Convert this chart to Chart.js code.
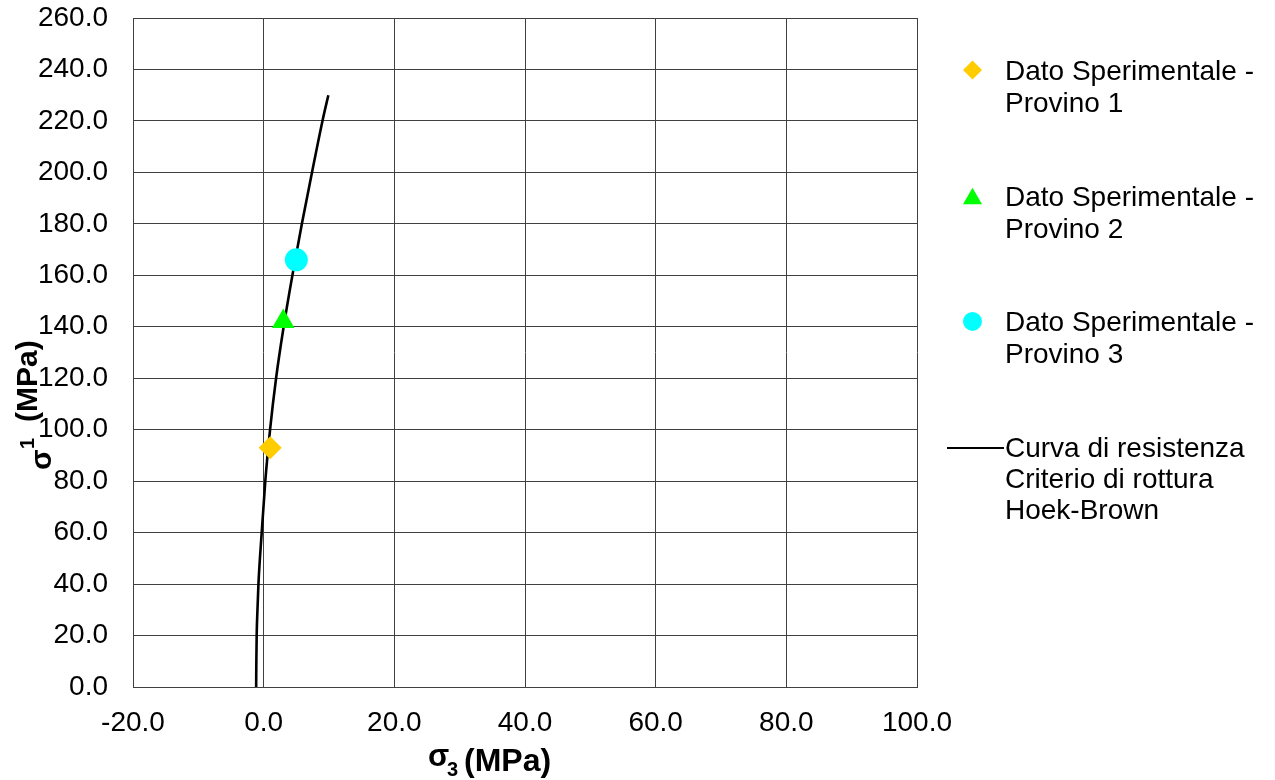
<!DOCTYPE html>
<html>
<head>
<meta charset="utf-8">
<script src="https://cdn.jsdelivr.net/npm/chart.js@4/dist/chart.umd.min.js"></script>
<style>
  body { margin: 0; background: #fff; }
  #wrap { width: 1275px; height: 780px; }
</style>
</head>
<body>
<div id="wrap"><canvas id="chHB" width="1275" height="780"></canvas></div>
<script>
// experimental points (sigma3, sigma1)
var provX = [1.0, 3.0, 5.0];
var provY = [93, 142, 166];
var provNames = ['Dato Sperimentale - Provino 1', 'Dato Sperimentale - Provino 2', 'Dato Sperimentale - Provino 3'];
var provColors = ['#FFCC00', '#00FF00', '#00FFFF'];
var provStyles = ['rectRot', 'triangle', 'circle'];

// Hoek-Brown failure curve
var curveX = [-1.15, -1.12, -1.07, -0.95, -0.8, -0.3, 0.25, 0.98, 1.9, 3.06, 4.4, 5.85, 7.4, 9.0, 9.9];
var curveY = [0, 10, 20, 30, 40, 60, 80, 100, 120, 140, 160, 180, 200, 220, 230];
var curveName = ['Curva di resistenza', 'Criterio di rottura', 'Hoek-Brown'];

var xTicks = [-20, 0, 20, 40, 60, 80, 100];
var yTicks = [0, 20, 40, 60, 80, 100, 120, 140, 160, 180, 200, 220, 240, 260];

var fontFam = '"Liberation Sans", Arial, sans-serif';
var gridCol = '#404040';

function pts(xs, ys) {
    var out = [];
    for (var i = 0; i < xs.length; i++) out.push({ x: xs[i], y: ys[i] });
    return out;
}

var datasets = [];
for (var i = 0; i < provX.length; i++) {
    datasets.push({
        label: provNames[i],
        data: [{ x: provX[i], y: provY[i] }],
        pointStyle: provStyles[i],
        pointRadius: provStyles[i] == 'triangle' ? 13 : 11.5,
        backgroundColor: provColors[i],
        borderColor: provColors[i],
        borderWidth: 0,
        showLine: false
    });
}
// curve last so it is drawn underneath the markers
datasets.push({
    label: curveName.join(' '),
    data: pts(curveX, curveY),
    showLine: true,
    borderColor: '#000',
    borderWidth: 2.6,
    pointRadius: 0,
    cubicInterpolationMode: 'monotone',
    fill: false
});

// legend + axis titles, drawn by hand to match the original layout
var sideLegend = {
    id: 'sideLegend',
    afterDraw: function (chart) {
        var ctx = chart.ctx;
        ctx.save();
        ctx.fillStyle = '#000';
        ctx.textBaseline = 'alphabetic';
        ctx.textAlign = 'left';
        ctx.font = '28px ' + fontFam;

        var top = 80, step = 125.7, tx = 1005, lh = 32;
        for (var i = 0; i < provNames.length; i++) {
            var by = top + i * step;
            var parts = provNames[i].split(' - ');
            ctx.fillStyle = '#000';
            ctx.fillText(parts[0] + ' -', tx, by);
            ctx.fillText(parts[1], tx, by + lh);
            ctx.fillStyle = provColors[i];
            ctx.strokeStyle = provColors[i];
            Chart.helpers.drawPoint(ctx, {
                pointStyle: provStyles[i],
                radius: provStyles[i] == 'triangle' ? 11 : 9.5,
                rotation: 0,
                borderWidth: 0
            }, 972.5, by - (provStyles[i] == 'triangle' ? 7 : 10));
        }
        var cy = top + 3 * step;
        ctx.strokeStyle = '#000';
        ctx.lineWidth = 2;
        ctx.beginPath();
        ctx.moveTo(947, cy - 9);
        ctx.lineTo(1004, cy - 9);
        ctx.stroke();
        ctx.fillStyle = '#000';
        for (var k = 0; k < curveName.length; k++) {
            ctx.fillText(curveName[k], tx, cy + k * 31);
        }

        // x title: sigma_3 (MPa)
        ctx.font = 'bold 31px ' + fontFam;
        ctx.fillText('\u03C3', 428, 766);
        ctx.font = 'bold 20px ' + fontFam;
        ctx.fillText('3', 447, 776);
        ctx.font = 'bold 32px ' + fontFam;
        ctx.fillText('(MPa)', 464, 771);

        // y title: sigma_1 (MPa), rotated
        ctx.save();
        ctx.translate(51, 470);
        ctx.rotate(-Math.PI / 2);
        ctx.font = 'bold 30px ' + fontFam;
        ctx.fillText('\u03C3', 0, 0);
        ctx.restore();
        ctx.save();
        ctx.translate(34, 449);
        ctx.rotate(-Math.PI / 2);
        ctx.font = 'bold 20px ' + fontFam;
        ctx.fillText('1', 0, 0);
        ctx.restore();
        ctx.save();
        ctx.translate(37, 422);
        ctx.rotate(-Math.PI / 2);
        ctx.font = 'bold 30px ' + fontFam;
        ctx.fillText('(MPa)', 0, 0);
        ctx.restore();

        ctx.restore();
    }
};

window.onload = function () {
    var el = document.getElementById('chHB');
    new Chart(el, {
        type: 'scatter',
        data: { datasets: datasets },
        options: {
            responsive: false,
            animation: false,
            layout: { padding: { left: 0, top: 18, right: 358, bottom: 0 } },
            plugins: {
                legend: { display: false },
                tooltip: { enabled: false }
            },
            scales: {
                x: {
                    type: 'linear',
                    min: xTicks[0],
                    max: xTicks[xTicks.length - 1],
                    afterBuildTicks: function (s) { s.ticks = xTicks.map(function (v) { return { value: v }; }); },
                    afterFit: function (s) { s.height = 93; },
                    grid: { color: gridCol, lineWidth: 1, drawTicks: false },
                    border: { color: gridCol, width: 1 },
                    ticks: {
                        padding: 19,
                        maxRotation: 0,
                        color: '#000',
                        font: { family: fontFam, size: 28 },
                        callback: function (v) { return v.toFixed(1); }
                    }
                },
                y: {
                    type: 'linear',
                    min: yTicks[0],
                    max: yTicks[yTicks.length - 1],
                    afterBuildTicks: function (s) { s.ticks = yTicks.map(function (v) { return { value: v }; }); },
                    afterFit: function (s) { s.width = 133; },
                    // invisible tick marks give the label gap without pushing the top down
                    grid: { color: gridCol, lineWidth: 1, drawTicks: true, tickLength: 25, tickColor: 'rgba(0,0,0,0)' },
                    border: { color: gridCol, width: 1 },
                    ticks: {
                        padding: 0,
                        color: '#000',
                        font: { family: fontFam, size: 28 },
                        callback: function (v) { return v.toFixed(1); }
                    }
                }
            }
        },
        plugins: [sideLegend]
    });
};
</script>
</body>
</html>
